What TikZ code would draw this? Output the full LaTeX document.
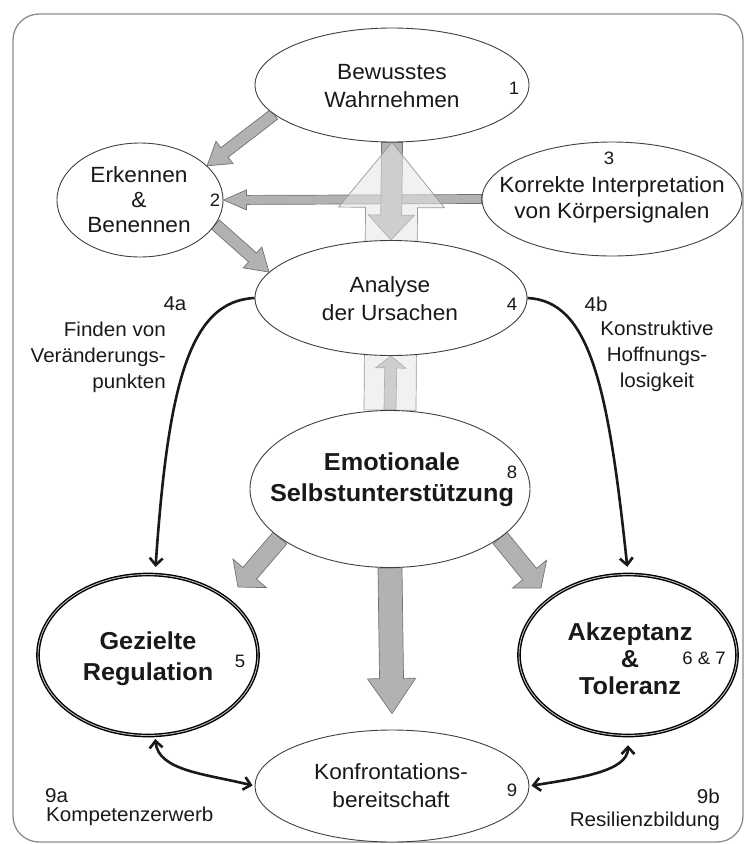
\documentclass[tikz,border=0pt]{standalone}
\usepackage{fontspec}
\setmainfont[FakeStretch=1.03]{Liberation Sans}
\usetikzlibrary{shapes.geometric,arrows.meta,calc,backgrounds}

% block arrow: [style]{from}{to}{shaft half width}{head half width}{head length}
\newcommand{\fatarrow}[6][]{%
  \path ($(#3)!#6!(#2)$) coordinate (fa-h);
  \draw[#1] ($(#2)!#4!90:(#3)$) -- ($(fa-h)!#4!90:(#3)$) -- ($(fa-h)!#5!90:(#3)$)
    -- (#3) -- ($(fa-h)!#5!-90:(#3)$) -- ($(fa-h)!#4!-90:(#3)$) -- ($(#2)!#4!-90:(#3)$) -- cycle;
}

\begin{document}
\begin{tikzpicture}[x=1pt,y=-1pt,
    bubble/.style={ellipse, draw=black!75, line width=0.9pt, fill=white, inner sep=0pt},
    strong/.style={ellipse, draw=black, line width=1.4pt, double=black!25, double distance=0.9pt, fill=white, inner sep=0pt},
    txt/.style={align=center, font=\fontsize{22}{28}\selectfont, text=black!90, inner sep=0pt},
    boldtxt/.style={align=center, font=\fontsize{24.5}{31}\selectfont\bfseries, text=black!90, inner sep=0pt},
    num/.style={font=\fontsize{18}{20}\selectfont, text=black!90, inner sep=0pt},
    lbl/.style={font=\fontsize{20}{26}\selectfont, text=black!90, inner sep=0pt},
    fat/.style={fill=black!30, draw=black!55, line width=0.7pt},
    pale/.style={fill=black!10, draw=black!40, line width=0.7pt, fill opacity=0.55},
    link/.style={draw=black!90, line width=2.6pt, -{Straight Barb[length=7pt,width=13pt]}},
    both/.style={draw=black!90, line width=2.6pt, {Straight Barb[length=7pt,width=13pt]}-{Straight Barb[length=7pt,width=13pt]}},
  ]
  \useasboundingbox (0,0) rectangle (744,844);

  % bubbles
  \node[bubble, minimum width=274, minimum height=114] (wahr) at (392,85) {};
  \node[bubble, minimum width=166, minimum height=114] (erk) at (140,200) {};
  \node[bubble, minimum width=260, minimum height=114] (korr) at (612,199) {};
  \node[bubble, minimum width=272, minimum height=115] (ana) at (391,298) {};
  \node[bubble, minimum width=280, minimum height=157] (emo) at (390,489) {};
  \node[strong, minimum width=220, minimum height=161] (reg) at (148,655) {};
  \node[strong, minimum width=218, minimum height=161] (akz) at (628,655) {};
  \node[bubble, minimum width=274, minimum height=112] (konf) at (392,786) {};

  \coordinate (regin) at (238,587);
  \coordinate (akzin) at (541,588);
  \coordinate (konfin) at ($(konf.north)+(0,-16)$);

  \begin{scope}[on background layer]
    \draw[black!45, line width=1.3pt, rounded corners=26pt] (13,14) rectangle (743,842);
    \fatarrow[fat]{wahr.194}{erk.27}{6pt}{14pt}{22pt}
    \fatarrow[fat]{erk.-18}{ana.168}{6pt}{14pt}{22pt}
    \fatarrow[fat]{korr.west}{erk.east}{4.5pt}{10pt}{23pt}
    \fatarrow[fat]{wahr.south}{ana.north}{10.5pt}{23pt}{25pt}
    \fatarrow[fat]{emo.north}{ana.south}{6pt}{15pt}{12pt}
    \fatarrow[pale]{emo.north}{wahr.south}{26pt}{53pt}{65pt}
    \fatarrow[fat]{emo.204}{regin}{9pt}{22pt}{18pt}
    \fatarrow[fat]{emo.-24}{akzin}{9pt}{22pt}{18pt}
    \fatarrow[fat]{emo.south}{konfin}{12pt}{24pt}{35pt}
  \end{scope}

  % texts and numbers
  \node[txt] (wahrtxt) at (392,86) {Bewusstes\\Wahrnehmen};
  \node[num] (n1) at (514,88) {1};
  \node[txt] (erktxt) at (139,200) {Erkennen\\[-3pt]\&\\[-3pt]Benennen};
  \node[num] (n2) at (215,200) {2};
  \node[txt] (korrtxt) at (612,200) {Korrekte Interpretation\\[-2pt]von Körpersignalen};
  \node[num] (n3) at (609,158) {3};
  \node[txt] (anatxt) at (390,299) {Analyse\\der Ursachen};
  \node[num] (n4) at (512,304) {4};
  \node[boldtxt] (emotxt) at (392,480) {Emotionale\\Selbstunterstützung};
  \node[num] (n8) at (512,472) {8};
  \node[boldtxt] (regtxt) at (148,659) {Gezielte\\Regulation};
  \node[num] (n5) at (240,661) {5};
  \node[boldtxt] (akztxt) at (630,659) {Akzeptanz\\[-4pt]\&\\[-4pt]Toleranz};
  \node[num] (n67) at (704,658) {6 \& 7};
  \node[txt] (konftxt) at (391,786) {Konfrontations-\\bereitschaft};
  \node[num] (n9) at (512,790) {9};

  % side labels
  \node[lbl] (l4a) at (175,304) {4a};
  \node[lbl, align=right, anchor=east] (finden) at (166,357) {Finden von\\Veränderungs-\\punkten};
  \node[lbl] (l4b) at (596,304) {4b};
  \node[lbl, align=center] (hoffnung) at (657,356) {Konstruktive\\Hoffnungs-\\losigkeit};
  \node[lbl, anchor=base west] (l9a) at (45,802) {9a};
  \node[lbl, anchor=base west] (kompetenz) at (46,821) {Kompetenzerwerb};
  \node[lbl, anchor=base east] (l9b) at (720,803) {9b};
  \node[lbl, anchor=base east] (resilienz) at (720,826) {Resilienzbildung};

  % curved links
  \draw[link, shorten >=7pt] (ana.west) .. controls +(-65,3) and +(13,-190) .. (reg.85);
  \draw[link, shorten >=7pt] (ana.east) .. controls +(62,3) and +(-20,-190) .. (akz.north);
  \draw[both, shorten <=3pt, shorten >=2pt] (reg.-85) .. controls +(3,35) and +(-48,-12) .. (konf.west);
  \draw[both, shorten <=2pt, shorten >=9pt] (konf.east) .. controls +(50,-8) and +(0,35) .. (akz.south);
\end{tikzpicture}
\end{document}
